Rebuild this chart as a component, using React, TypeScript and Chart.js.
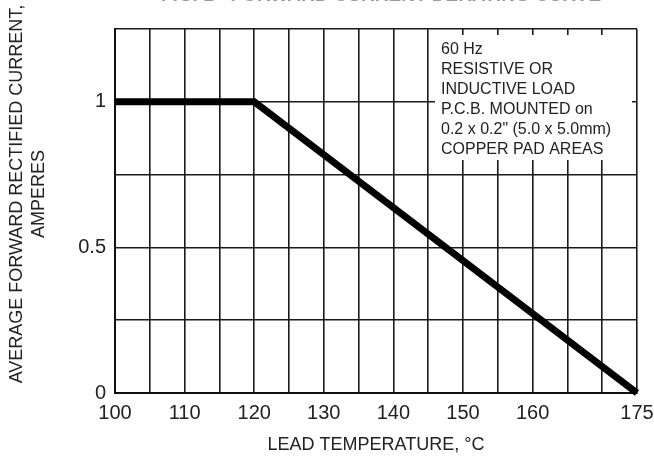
import React, { useEffect, useRef } from 'react';
import { Chart, registerables } from 'chart.js';

Chart.register(...registerables);

const temperatures = [100, 120, 175];
const currents = [1, 1, 0];
const xTickLabels = [100, 110, 120, 130, 140, 150, 160, 175];
const yTickLabels = [0, 0.5, 1];
const chartTitle = 'FIG. 1 - FORWARD CURRENT DERATING CURVE';
const yTitleLines = ['AVERAGE FORWARD RECTIFIED CURRENT,', 'AMPERES'];
const xTitle = 'LEAD TEMPERATURE, °C';
const noteLines = [
  '60 Hz',
  'RESISTIVE OR',
  'INDUCTIVE LOAD',
  'P.C.B. MOUNTED on',
  '0.2 x 0.2" (5.0 x 5.0mm)',
  'COPPER PAD AREAS',
];

const FONT = "'Liberation Sans', Arial, Helvetica, sans-serif";

const decorPlugin = {
  id: 'decor',
  afterDraw(chart: any) {
    const { ctx, chartArea } = chart;
    ctx.save();
    // note box covering grid
    const bx = chartArea.left + 320;
    const by = chartArea.top + 6;
    const bw = chartArea.right - 5 - bx;
    const bh = 125;
    ctx.fillStyle = '#ffffff';
    ctx.fillRect(bx, by, bw, bh);
    ctx.fillStyle = '#222';
    ctx.font = `16px ${FONT}`;
    ctx.textAlign = 'left';
    ctx.textBaseline = 'middle';
    noteLines.forEach((line, i) => {
      ctx.fillText(line, bx + 6, by + 15 + i * 20);
    });
    // clipped figure title at the top
    ctx.font = `bold 19px ${FONT}`;
    ctx.textAlign = 'center';
    ctx.textBaseline = 'alphabetic';
    ctx.fillStyle = '#999';
    ctx.fillText(chartTitle, 381, 0.8);
    // y-axis title
    ctx.fillStyle = '#222';
    ctx.font = `18px ${FONT}`;
    ctx.textAlign = 'center';
    ctx.textBaseline = 'middle';
    const xs = [17, 39];
    yTitleLines.forEach((line, i) => {
      ctx.save();
      ctx.translate(xs[i], 194);
      ctx.rotate(-Math.PI / 2);
      ctx.fillText(line, 0, 0);
      ctx.restore();
    });
    ctx.restore();
  },
};

export default function App() {
  const ref = useRef<HTMLCanvasElement | null>(null);
  useEffect(() => {
    if (!ref.current) return;
    const chart = new Chart(ref.current, {
      type: 'line',
      data: {
        datasets: [
          {
            data: temperatures.map((t, i) => ({ x: t, y: currents[i] })),
            borderColor: '#000',
            borderWidth: 7,
            pointRadius: 0,
            tension: 0,
            borderCapStyle: 'butt',
            borderJoinStyle: 'miter',
            clip: false as any,
          },
        ],
      },
      options: {
        animation: false,
        responsive: false,
        devicePixelRatio: 1,
        layout: { padding: { top: 29, right: 17, bottom: 0, left: 0 } },
        plugins: {
          legend: { display: false },
          tooltip: { enabled: false },
          title: { display: false },
        },
        scales: {
          x: {
            type: 'linear',
            min: 100,
            max: 175,
            afterFit: (s: any) => {
              s.height = 66;
              s.paddingLeft = 0;
              s.paddingRight = 0;
            },
            ticks: {
              stepSize: 5,
              autoSkip: false,
              maxRotation: 0,
              padding: 8,
              color: '#222',
              font: { family: FONT, size: 20 },
              callback: (v: any) => (xTickLabels.includes(Number(v)) ? String(v) : ''),
            },
            grid: { color: '#1a1a1a', lineWidth: 1.6, drawTicks: false },
            border: { color: '#111', width: 2 },
            title: {
              display: true,
              text: xTitle,
              color: '#222',
              font: { family: FONT, size: 18 },
              padding: { top: 0, bottom: 3 },
            },
          },
          y: {
            type: 'linear',
            min: 0,
            max: 1.25,
            afterFit: (s: any) => {
              s.width = 115;
              s.paddingTop = 0;
              s.paddingBottom = 0;
            },
            ticks: {
              stepSize: 0.25,
              autoSkip: false,
              padding: 9,
              color: '#222',
              font: { family: FONT, size: 20 },
              callback: (v: any) => (yTickLabels.includes(Number(v)) ? String(v) : ''),
            },
            grid: { color: '#1a1a1a', lineWidth: 1.6, drawTicks: false },
            border: { color: '#111', width: 2 },
          },
        },
      },
      plugins: [decorPlugin],
    } as any);
    return () => chart.destroy();
  }, []);
  return (
    <canvas
      ref={ref}
      width={654}
      height={459}
      style={{ position: 'absolute', left: 0, top: 0, width: 654, height: 459 }}
    />
  );
}
